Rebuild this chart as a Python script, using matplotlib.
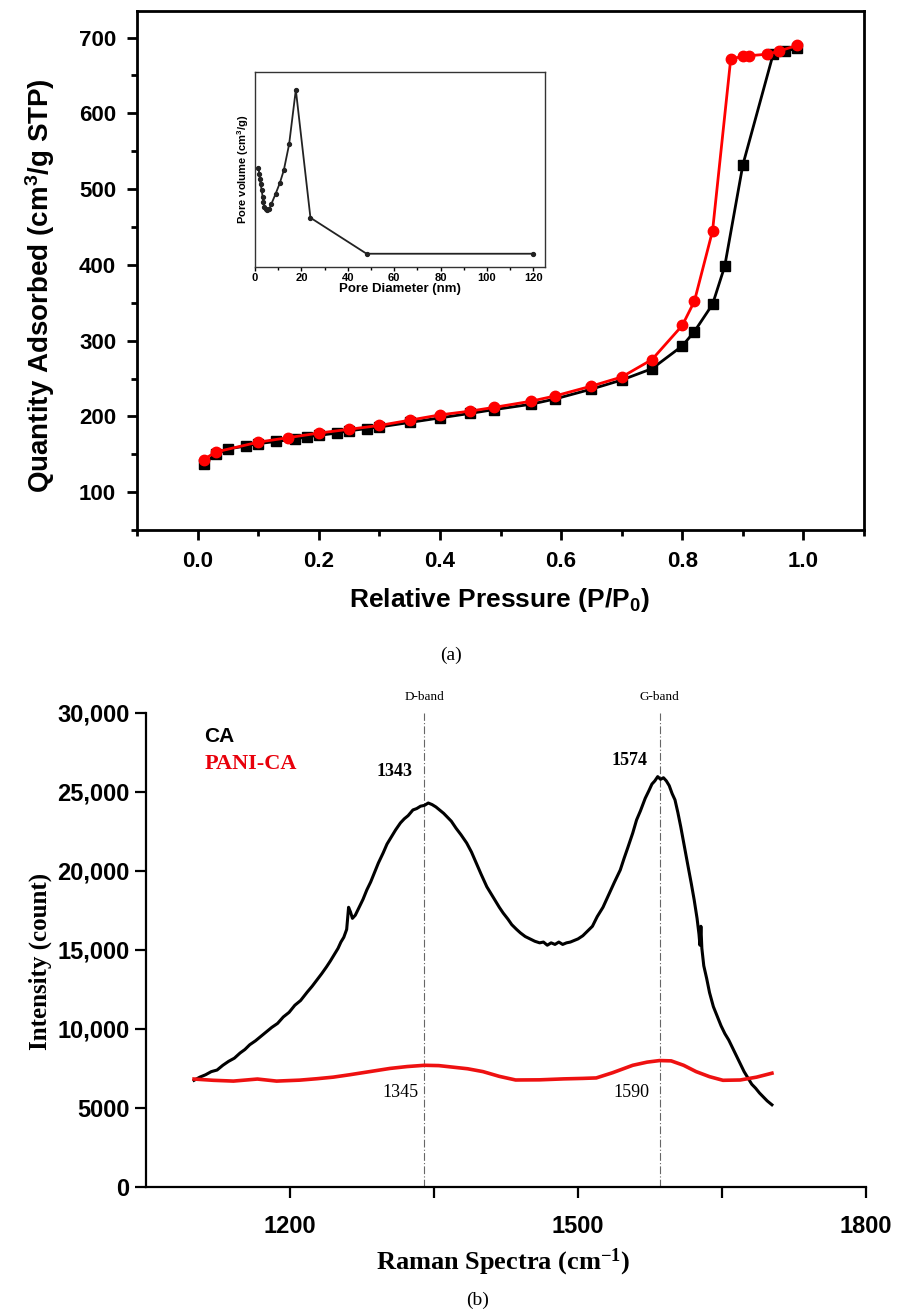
import matplotlib
matplotlib.use('Agg')
import matplotlib.pyplot as plt
from matplotlib.ticker import MultipleLocator, FixedLocator, FuncFormatter

plt.rcParams['font.family'] = ['Liberation Sans', 'DejaVu Sans']
plt.rcParams['font.weight'] = 'bold'
plt.rcParams['axes.labelweight'] = 'bold'
plt.rcParams['mathtext.fontset'] = 'custom'
plt.rcParams['mathtext.default'] = 'regular'

serif = ['Liberation Serif', 'DejaVu Serif']

# ---- (a) N2 isotherms
p_ca = [0.01, 0.03, 0.05, 0.08, 0.10, 0.13, 0.16, 0.18, 0.20, 0.23, 0.25, 0.28,
        0.30, 0.35, 0.40, 0.45, 0.49, 0.55, 0.59, 0.65, 0.70, 0.75, 0.80, 0.82,
        0.85, 0.87, 0.90, 0.95, 0.97, 0.99]
q_ca = [137, 150, 157, 161, 164, 167, 170, 173, 175, 178, 181, 184,
        186, 192, 198, 204, 209, 216, 223, 236, 248, 263, 293, 312,
        348, 398, 532, 678, 682, 686]

p_pani = [0.01, 0.03, 0.10, 0.15, 0.20, 0.25, 0.30, 0.35, 0.40, 0.45, 0.49,
          0.55, 0.59, 0.65, 0.70, 0.75, 0.80, 0.82, 0.85, 0.88, 0.90, 0.91,
          0.94, 0.96, 0.99]
q_pani = [143, 153, 166, 172, 178, 183, 188, 195, 202, 207, 212,
          220, 227, 240, 252, 275, 320, 352, 445, 672, 675, 676,
          678, 682, 690]

# inset: pore size distribution
d_pore = [1.4, 1.9, 2.1, 2.4, 2.9, 3.3, 3.6, 4.0, 4.6, 5.3, 6.1, 7.1, 8.9,
          10.7, 12.4, 14.7, 17.6, 23.9, 48.1, 120.0]
v_pore = [2.98, 2.80, 2.65, 2.50, 2.30, 2.10, 1.95, 1.80, 1.73, 1.70, 1.73,
          1.90, 2.20, 2.52, 2.90, 3.68, 5.32, 1.48, 0.40, 0.40]

# ---- (b) Raman
wn_ca = [1100, 1106, 1112, 1118, 1124, 1130, 1136, 1142, 1148, 1153, 1158, 1164,
         1169, 1175, 1181, 1187, 1193, 1199, 1205, 1211, 1218, 1223, 1228, 1233,
         1238, 1242, 1246, 1250, 1253, 1256, 1259, 1261, 1263, 1265, 1268, 1272,
         1276, 1280, 1284, 1288, 1292, 1297, 1301, 1306, 1310, 1315, 1319, 1323,
         1328, 1332, 1336, 1340, 1344, 1348, 1352, 1356, 1360, 1364, 1368, 1373,
         1378, 1384, 1389, 1394, 1399, 1405, 1410, 1414, 1418, 1422, 1427, 1431,
         1436, 1440, 1445, 1450, 1455, 1460, 1464, 1468, 1472, 1476, 1480, 1484,
         1488, 1492, 1496, 1500, 1505, 1510, 1515, 1520, 1526, 1532, 1538, 1544,
         1548, 1552, 1557, 1561, 1565, 1570, 1574, 1577, 1580, 1583, 1586, 1589,
         1592, 1595, 1598, 1601, 1604, 1607, 1610, 1614, 1618, 1621, 1624, 1626,
         1627, 1628, 1629, 1631, 1634, 1637, 1641, 1645, 1649, 1653, 1657, 1661,
         1665, 1669, 1673, 1677, 1681, 1685, 1689, 1693, 1697, 1700, 1702]
int_ca = [6750, 6950, 7100, 7300, 7400, 7700, 7950, 8150, 8480, 8700, 9000, 9250,
          9500, 9800, 10100, 10350, 10760, 11050, 11500, 11800, 12340, 12700, 13100, 13500,
          13930, 14300, 14700, 15100, 15500, 15800, 16300, 17700, 17400, 17000, 17200, 17700,
          18200, 18800, 19300, 19900, 20500, 21140, 21700, 22200, 22600, 23040, 23300, 23500,
          23860, 23950, 24100, 24150, 24300, 24200, 24050, 23850, 23650, 23400, 23150, 22700,
          22300, 21770, 21200, 20500, 19800, 19000, 18500, 18100, 17700, 17340, 16950, 16600,
          16300, 16080, 15850, 15700, 15550, 15450, 15500, 15300, 15450, 15350, 15500, 15350,
          15450, 15500, 15600, 15700, 15900, 16200, 16500, 17110, 17700, 18500, 19300, 20060,
          20800, 21500, 22400, 23230, 23800, 24600, 25100, 25500, 25700, 25970, 25800, 25900,
          25700, 25400, 24900, 24500, 23700, 22800, 21800, 20500, 19200, 18170, 17000, 16000,
          15300, 16500, 15100, 14000, 13200, 12300, 11410, 10800, 10200, 9700, 9300, 8800,
          8300, 7800, 7300, 6900, 6500, 6250, 5950, 5700, 5450, 5300, 5200]

wn_pani = [1100, 1120, 1141, 1166, 1186, 1210, 1228, 1245, 1262, 1283, 1304, 1322,
           1340, 1355, 1367, 1385, 1401, 1418, 1435, 1460, 1485, 1505, 1519, 1536,
           1557, 1572, 1585, 1597, 1610, 1623, 1637, 1651, 1669, 1686, 1702]
int_pani = [6830, 6750, 6700, 6830, 6700, 6760, 6850, 6950, 7100, 7300, 7500, 7620,
            7700, 7680, 7600, 7480, 7300, 7000, 6770, 6780, 6840, 6870, 6900, 7230,
            7700, 7900, 8000, 7980, 7700, 7300, 6980, 6750, 6770, 6950, 7200]

d_band = 1340
g_band = 1585

fig = plt.figure(figsize=(9.02, 13.13), dpi=100)

# ---------------- panel (a)
ax1 = fig.add_axes([0.1519, 0.5963, 0.806, 0.3953])
ax1.plot(p_ca, q_ca, color='black', lw=2, marker='s', ms=6.5, zorder=3)
ax1.plot(p_pani, q_pani, color='red', lw=2, marker='o', ms=7.5, zorder=4)
ax1.set_xlim(-0.1, 1.1)
ax1.set_ylim(50, 735)
ax1.xaxis.set_major_locator(MultipleLocator(0.2))
ax1.xaxis.set_minor_locator(MultipleLocator(0.1))
ax1.yaxis.set_major_locator(MultipleLocator(100))
ax1.yaxis.set_minor_locator(MultipleLocator(50))
ax1.xaxis.set_major_formatter(FuncFormatter(lambda v, p: f'{v:.1f}'))
ax1.tick_params(which='major', direction='out', length=7, width=2, labelsize=16, pad=8)
ax1.tick_params(which='minor', direction='out', length=4, width=2)
for s in ax1.spines.values():
    s.set_linewidth(2)
ax1.set_xlabel('Relative Pressure (P/P$_0$)', fontsize=19)
ax1.set_ylabel('Quantity Adsorbed (cm$^3$/g STP)', fontsize=20)
ax1.xaxis.label.set_verticalalignment('center')
ax1.yaxis.label.set_verticalalignment('center')
ax1.xaxis.set_label_coords(0.499, -0.135)
ax1.yaxis.set_label_coords(-0.133, 0.472)

# inset
axi = fig.add_axes([0.2827, 0.7966, 0.3215, 0.1485])
axi.plot(d_pore, v_pore, color='#222222', lw=1.3, marker='o', ms=2.8)
axi.set_xlim(0, 125)
axi.set_ylim(0, 5.85)
axi.set_yticks([])
axi.xaxis.set_major_locator(MultipleLocator(20))
axi.xaxis.set_minor_locator(MultipleLocator(10))
axi.tick_params(which='major', direction='out', length=3, width=1, labelsize=8, pad=1.5)
axi.tick_params(which='minor', direction='out', length=2, width=1)
for s in axi.spines.values():
    s.set_linewidth(1)
    s.set_color('#333333')
axi.set_xlabel('Pore Diameter (nm)', fontsize=9.5, labelpad=0)
axi.set_ylabel('Pore volume (cm$^3$/g)', fontsize=8, labelpad=3)

fig.text(0.5, 1 - 655 / 1313, '(a)', family=serif, fontsize=14, weight='normal',
         ha='center', va='center')

# ---------------- panel (b)
ax2 = fig.add_axes([0.1619, 0.0960, 0.7982, 0.3610])
ax2.vlines([d_band, g_band], 0, 30000, colors='#666666', linestyles=(0, (7, 2, 1, 2)), lw=0.8)
ax2.plot(wn_ca, int_ca, color='black', lw=2.2, zorder=3)
ax2.plot(wn_pani, int_pani, color='#ee1111', lw=2.6, zorder=4)
ax2.set_xlim(1050, 1800)
ax2.set_ylim(0, 30000)
ax2.spines['top'].set_visible(False)
ax2.spines['right'].set_visible(False)
for s in ['left', 'bottom']:
    ax2.spines[s].set_linewidth(1.6)
ax2.xaxis.set_major_locator(FixedLocator([1200, 1500, 1800]))
ax2.xaxis.set_minor_locator(FixedLocator([1350, 1650]))
ax2.yaxis.set_major_locator(MultipleLocator(5000))
ax2.yaxis.set_major_formatter(FuncFormatter(
    lambda v, p: f'{int(v):,}' if v >= 10000 else f'{int(v)}'))
ax2.tick_params(which='major', direction='out', length=8, width=1.6, labelsize=17, pad=4)
ax2.tick_params(which='minor', direction='out', length=8, width=1.6)
ax2.tick_params(axis='x', which='major', pad=12)
ax2.set_xlabel('Raman Spectra (cm$^{-1}$)', family=serif, fontsize=19)
ax2.set_ylabel('Intensity (count)', family=serif, fontsize=18)
ax2.xaxis.label.set_verticalalignment('center')
ax2.yaxis.label.set_verticalalignment('center')
ax2.xaxis.set_label_coords(0.496, -0.158)
ax2.yaxis.set_label_coords(-0.147, 0.475)

ax2.text(1111, 28480, 'CA', fontsize=15, color='black', va='center', ha='left')
ax2.text(1111, 26770, 'PANI-CA', family=serif, fontsize=16, color='#e8000b',
         va='center', ha='left')
ax2.text(1309, 26270, '1343', family=serif, fontsize=13, ha='center', va='center')
ax2.text(1554, 26960, '1574', family=serif, fontsize=13, ha='center', va='center')
ax2.text(1315, 5950, '1345', family=serif, fontsize=13, weight='normal',
         ha='center', va='center')
ax2.text(1556, 5950, '1590', family=serif, fontsize=13, weight='normal',
         ha='center', va='center')
ax2.text(d_band, 31000, 'D-band', family=serif, fontsize=9.5, weight='normal',
         ha='center', va='center', clip_on=False)
ax2.text(g_band, 31000, 'G-band', family=serif, fontsize=9.5, weight='normal',
         ha='center', va='center', clip_on=False)

fig.text(478 / 902, 1 - 1300 / 1313, '(b)', family=serif, fontsize=14, weight='normal',
         ha='center', va='center')

fig.savefig('out.png', dpi=100)
